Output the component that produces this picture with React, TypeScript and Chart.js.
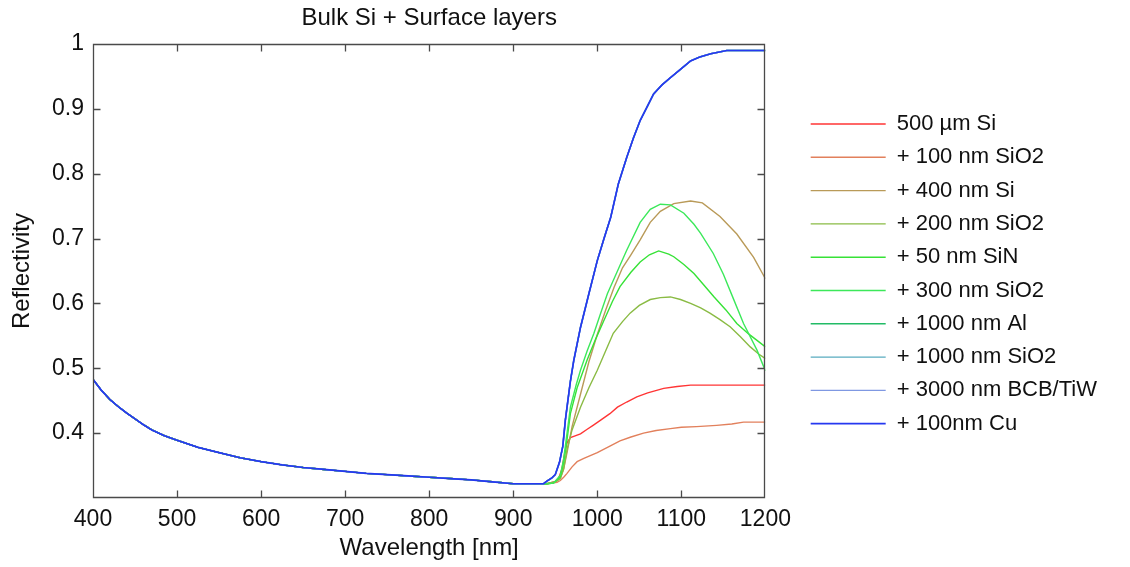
import React, { useEffect, useRef } from "react";
import { Chart, registerables } from "chart.js";

Chart.register(...registerables);

const FONT = "'Liberation Sans', Arial, Helvetica, sans-serif";
const TEXT = "#111111";

const chartTitle = "Bulk Si + Surface layers";
const xTitle = "Wavelength [nm]";
const yTitle = "Reflectivity";

const seriesLabels = [
  "500 µm Si",
  "+ 100 nm SiO2",
  "+ 400 nm Si",
  "+ 200 nm SiO2",
  "+ 50 nm SiN",
  "+ 300 nm SiO2",
  "+ 1000 nm Al",
  "+ 1000 nm SiO2",
  "+ 3000 nm BCB/TiW",
  "+ 100nm Cu",
];
const seriesColors = [
  "#ff3535",
  "#e2805c",
  "#b99a58",
  "#8abb44",
  "#36e236",
  "#3ce85a",
  "#22bb66",
  "#58abbf",
  "#7f98e2",
  "#2638f0",
];

const xMin = 400;
const xMax = 1200;
const xStep = 100;
const yMin = 0.3;
const yMax = 1;
const yStep = 0.1;

// shared part of every curve (400 - 930 nm)
const baseWl = [400, 410, 420, 430, 440, 450, 460, 470, 485, 500, 525, 550, 575, 600, 625, 650, 675, 700, 725, 750, 775, 800, 825, 850, 875, 900, 930];
const baseR = [0.483, 0.466, 0.452, 0.441, 0.431, 0.422, 0.413, 0.405, 0.396, 0.389, 0.378, 0.37, 0.362, 0.356, 0.351, 0.347, 0.344, 0.341, 0.338, 0.336, 0.334, 0.332, 0.33, 0.328, 0.325, 0.322, 0.322];

// 500 µm Si
const siWl = [940, 950, 954, 958, 961, 964, 968, 972, 980, 988, 995, 1004, 1015, 1024, 1035, 1047, 1060, 1079, 1095, 1111, 1200];
const siR = [0.322, 0.325, 0.33, 0.345, 0.368, 0.385, 0.393, 0.395, 0.399, 0.406, 0.412, 0.42, 0.43, 0.44, 0.448, 0.456, 0.462, 0.469, 0.472, 0.474, 0.474];

// + 100 nm SiO2
const ox100Wl = [940, 952, 956, 960, 964, 970, 976, 984, 1000, 1015, 1027, 1040, 1055, 1070, 1087, 1100, 1118, 1142, 1160, 1174, 1200];
const ox100R = [0.322, 0.324, 0.327, 0.332, 0.338, 0.348, 0.356, 0.361, 0.37, 0.38, 0.388, 0.394, 0.4, 0.404, 0.407, 0.409, 0.41, 0.412, 0.414, 0.417, 0.417];

// + 400 nm Si
const si400Wl = [940, 950, 956, 960, 964, 970, 980, 990, 1000, 1010, 1020, 1030, 1040, 1051, 1063, 1075, 1091, 1111, 1125, 1146, 1166, 1186, 1200];
const si400R = [0.322, 0.325, 0.33, 0.345, 0.37, 0.41, 0.46, 0.51, 0.552, 0.59, 0.625, 0.655, 0.675, 0.698, 0.725, 0.742, 0.754, 0.758, 0.755, 0.734, 0.707, 0.671, 0.638];

// + 200 nm SiO2
const ox200Wl = [940, 950, 956, 960, 964, 970, 980, 990, 1000, 1010, 1019, 1030, 1039, 1050, 1063, 1075, 1087, 1099, 1111, 1123, 1134, 1146, 1158, 1170, 1182, 1192, 1200];
const ox200R = [0.322, 0.325, 0.33, 0.345, 0.375, 0.405, 0.44, 0.47, 0.497, 0.527, 0.554, 0.572, 0.585, 0.597, 0.606, 0.609, 0.61, 0.606, 0.6, 0.593, 0.585, 0.575, 0.564, 0.549, 0.533, 0.522, 0.515];

// + 50 nm SiN
const sinWl = [940, 948, 956, 960, 964, 968, 976, 988, 998, 1008, 1018, 1027, 1040, 1051, 1062, 1073, 1085, 1091, 1103, 1115, 1127, 1139, 1153, 1166, 1180, 1190, 1200];
const sinR = [0.322, 0.323, 0.333, 0.355, 0.39, 0.43, 0.47, 0.513, 0.545, 0.574, 0.603, 0.626, 0.648, 0.664, 0.675, 0.681, 0.676, 0.672, 0.66, 0.646, 0.628, 0.61, 0.59, 0.569, 0.553, 0.543, 0.533];

// + 300 nm SiO2
const ox300Wl = [940, 948, 956, 960, 964, 968, 975, 980, 988, 996, 1004, 1012, 1024, 1035, 1051, 1063, 1075, 1087, 1103, 1115, 1123, 1138, 1150, 1162, 1174, 1190, 1200];
const ox300R = [0.322, 0.323, 0.335, 0.36, 0.4, 0.44, 0.475, 0.497, 0.527, 0.554, 0.585, 0.615, 0.65, 0.682, 0.725, 0.745, 0.753, 0.752, 0.739, 0.722, 0.708, 0.677, 0.645, 0.607, 0.569, 0.528, 0.496];

// + 1000 nm Al and all following layers
const metalWl = [936, 940, 946, 950, 955, 959, 962, 965, 968, 972, 980, 990, 1000, 1008, 1016, 1025, 1035, 1043, 1051, 1060, 1067, 1077, 1087, 1100, 1111, 1122, 1135, 1154, 1200];
const metalR = [0.322, 0.326, 0.331, 0.336, 0.355, 0.38, 0.42, 0.45, 0.48, 0.512, 0.563, 0.615, 0.666, 0.7, 0.733, 0.784, 0.825, 0.855, 0.882, 0.905, 0.923, 0.937, 0.948, 0.962, 0.974, 0.98, 0.985, 0.99, 0.99];

const seriesWl = [siWl, ox100Wl, si400Wl, ox200Wl, sinWl, ox300Wl, metalWl, metalWl, metalWl, metalWl];
const seriesR = [siR, ox100R, si400R, ox200R, sinR, ox300R, metalR, metalR, metalR, metalR];

const boxPlugin = {
  id: "matlabBox",
  afterDatasetsDraw(chart: any) {
    const { ctx, chartArea: a, scales } = chart;
    const L = 7;
    const l = Math.round(a.left) + 0.5;
    const r = Math.round(a.right) - 0.5;
    const t = Math.round(a.top) + 0.5;
    const b = Math.round(a.bottom) - 0.5;
    ctx.save();
    ctx.strokeStyle = "#4a4a4a";
    ctx.lineWidth = 1.3;
    ctx.beginPath();
    ctx.rect(l, t, r - l, b - t);
    scales.x.ticks.forEach((tk: any) => {
      const px = Math.round(scales.x.getPixelForValue(tk.value)) + 0.5;
      if (px <= l + 2 || px >= r - 2) return;
      ctx.moveTo(px, b);
      ctx.lineTo(px, b - L);
      ctx.moveTo(px, t);
      ctx.lineTo(px, t + L);
    });
    scales.y.ticks.forEach((tk: any) => {
      const py = Math.round(scales.y.getPixelForValue(tk.value)) + 0.5;
      if (py <= t + 2 || py >= b - 2) return;
      ctx.moveTo(l, py);
      ctx.lineTo(l + L, py);
      ctx.moveTo(r, py);
      ctx.lineTo(r - L, py);
    });
    ctx.stroke();
    ctx.restore();
  },
};

export default function App() {
  const canvasRef = useRef<HTMLCanvasElement | null>(null);

  useEffect(() => {
    const canvas = canvasRef.current;
    if (!canvas) return;

    const order = seriesLabels.map((_, i) => i).reverse();
    const datasets = order.map((i) => ({
      label: seriesLabels[i],
      data: baseWl.concat(seriesWl[i]).map((x, k) => ({ x, y: baseR.concat(seriesR[i])[k] })),
      borderColor: seriesColors[i],
      backgroundColor: seriesColors[i],
      borderWidth: i === 9 ? 1.7 : 1.4,
      pointRadius: 0,
      tension: 0,
      fill: false,
    }));

    const chart = new Chart(canvas, {
      type: "line",
      data: { datasets },
      plugins: [boxPlugin],
      options: {
        animation: false,
        responsive: false,
        devicePixelRatio: 1,
        layout: { padding: { left: 0, right: 23, top: 0, bottom: 0 } },
        plugins: {
          title: {
            display: true,
            text: chartTitle,
            color: TEXT,
            fullSize: false,
            font: { family: FONT, size: 24, weight: "normal" },
            padding: { top: 4, bottom: 11.2 },
          },
          legend: {
            display: true,
            position: "right",
            fullSize: false,
            reverse: true,
            maxWidth: 420,
            title: { display: true, text: "", font: { size: 4.75 }, padding: 0 },
            labels: {
              usePointStyle: true,
              pointStyle: "line",
              pointStyleWidth: 75,
              padding: 11.3,
              color: TEXT,
              font: { family: FONT, size: 22 },
            },
          },
          tooltip: { enabled: false },
        },
        scales: {
          x: {
            type: "linear",
            min: xMin,
            max: xMax,
            grid: { display: false, drawTicks: false },
            border: { display: false },
            ticks: {
              stepSize: xStep,
              autoSkip: false,
              maxRotation: 0,
              padding: 8,
              color: TEXT,
              font: { family: FONT, size: 23 },
              callback: (v: any) => String(v),
            },
            title: {
              display: true,
              text: xTitle,
              color: TEXT,
              font: { family: FONT, size: 24 },
              padding: { top: 0, bottom: 4 },
            },
            afterFit: (s: any) => {
              s.height = 69;
            },
          },
          y: {
            type: "linear",
            min: yMin,
            max: yMax,
            grid: { display: false, drawTicks: false },
            border: { display: false },
            ticks: {
              stepSize: yStep,
              padding: 9,
              color: TEXT,
              font: { family: FONT, size: 23 },
              callback: (v: any) => (Number(v) < 0.35 ? "" : String(Number(Number(v).toFixed(1)))),
            },
            title: {
              display: true,
              text: yTitle,
              color: TEXT,
              font: { family: FONT, size: 24 },
              padding: { top: 7.6, bottom: 0 },
            },
            afterFit: (s: any) => {
              s.width = 93;
            },
          },
          gap: {
            type: "linear",
            position: "right",
            display: true,
            grid: { display: false, drawTicks: false },
            border: { display: false },
            ticks: { display: false },
            afterFit: (s: any) => {
              s.width = 34;
            },
          },
        },
      } as any,
    });

    return () => chart.destroy();
  }, []);

  return (
    <div style={{ position: "fixed", left: 0, top: 0, width: 1130, height: 567, background: "#ffffff" }}>
      <canvas ref={canvasRef} width={1130} height={567} style={{ display: "block" }} />
    </div>
  );
}
